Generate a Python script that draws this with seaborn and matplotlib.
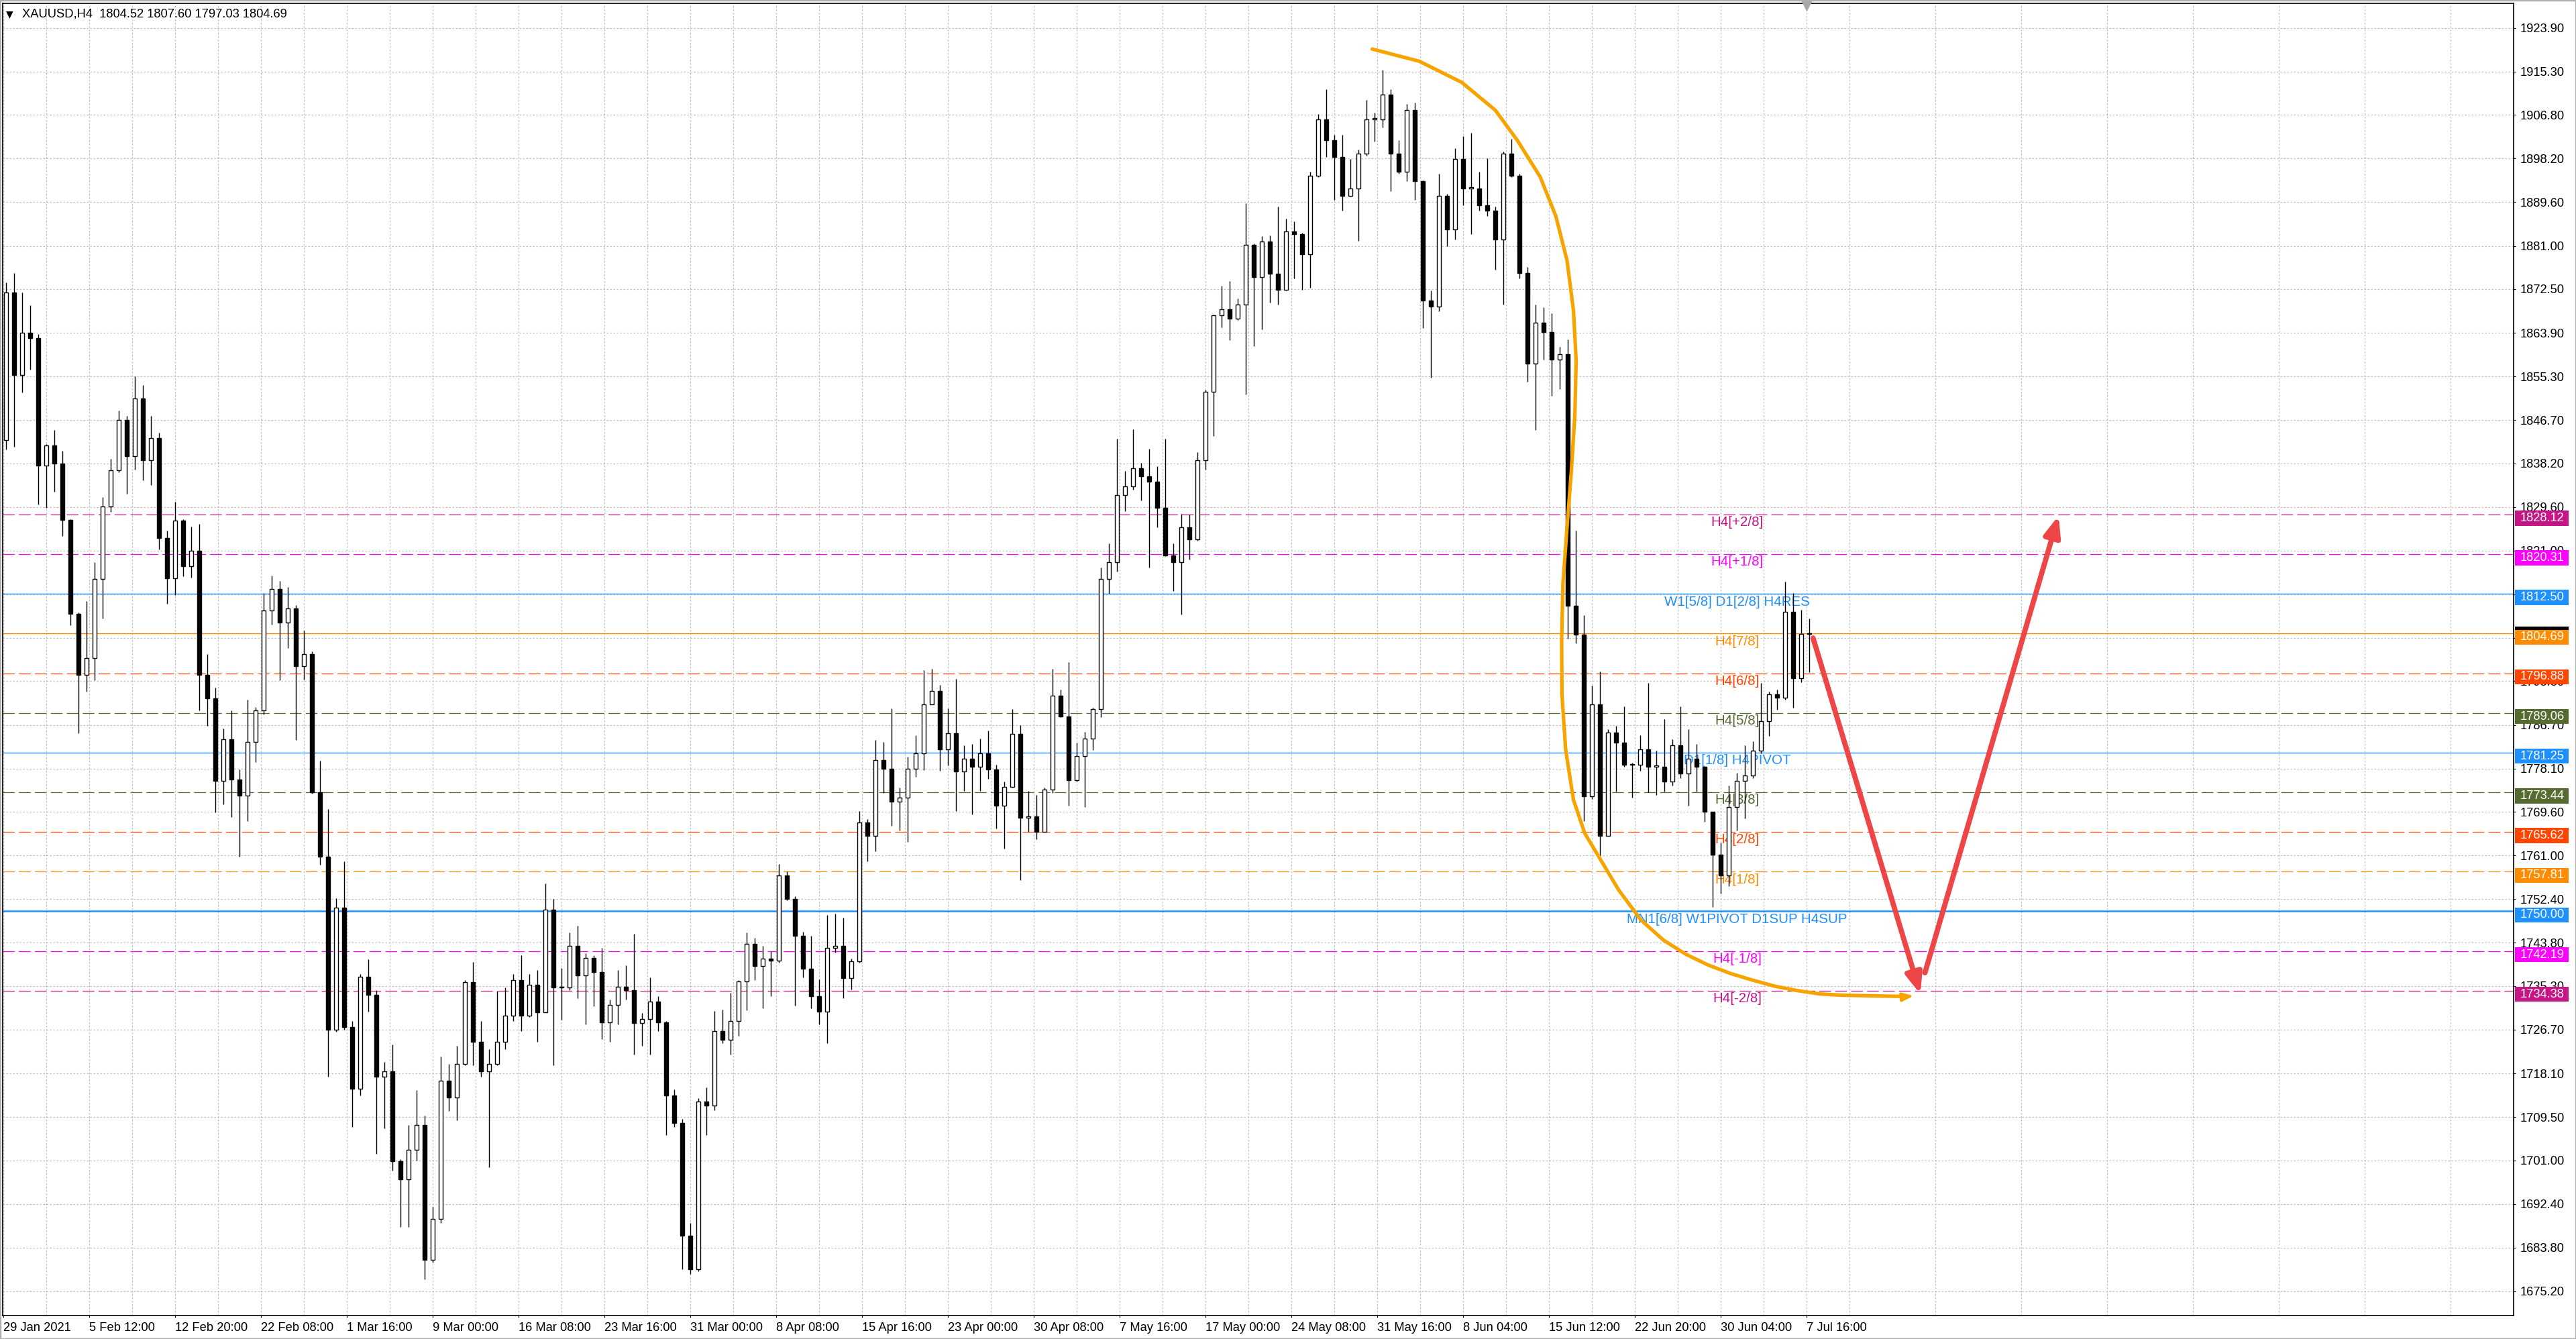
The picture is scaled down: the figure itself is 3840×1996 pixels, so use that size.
import numpy as np
import matplotlib
matplotlib.use("Agg")
import matplotlib.pyplot as plt
import matplotlib.patheffects as pe
import seaborn as sns
from matplotlib.patches import Rectangle
from matplotlib.transforms import blended_transform_factory

# %% data: XAUUSD, each candle = 3 H4 bars
first_open = 1842.8
closes = [
    1871.8, 1855.6, 1863.9, 1862.9, 1837.8, 1841.7, 1838.2, 1827.0, 1808.6, 1796.6, 1799.9, 1815.4, 1829.7, 1836.8, 1846.7,
    1839.6, 1850.9, 1838.8, 1843.2, 1823.5, 1815.6, 1826.9, 1817.9, 1821.0, 1796.6, 1791.9, 1775.7, 1783.9, 1775.9, 1772.8,
    1783.3, 1789.5, 1809.2, 1813.4, 1806.9, 1809.6, 1798.3, 1800.7, 1773.4, 1760.7, 1726.7, 1750.7, 1727.2, 1715.1, 1737.1,
    1733.5, 1717.5, 1718.5, 1700.8, 1697.3, 1703.1, 1708.0, 1681.4, 1689.4, 1716.7, 1713.4, 1719.9, 1736.0, 1724.3, 1718.5,
    1719.9, 1724.3, 1729.4, 1736.4, 1729.4, 1735.5, 1730.1, 1750.3, 1735.0, 1735.0, 1743.2, 1737.4, 1740.8, 1738.1, 1728.2,
    1731.6, 1735.2, 1734.5, 1728.0, 1728.8, 1732.3, 1728.2, 1713.7, 1708.3, 1686.2, 1679.6, 1712.6, 1711.8, 1726.4, 1724.7,
    1728.4, 1736.2, 1743.6, 1739.3, 1740.7, 1740.3, 1757.1, 1752.4, 1745.2, 1738.7, 1733.3, 1730.3, 1742.8, 1743.2, 1736.9,
    1740.1, 1767.5, 1764.9, 1779.8, 1778.0, 1771.6, 1772.4, 1778.0, 1781.1, 1790.7, 1793.4, 1781.9, 1785.0, 1777.5, 1780.0,
    1778.5, 1781.1, 1777.9, 1770.8, 1774.5, 1784.9, 1768.4, 1768.7, 1765.6, 1774.0, 1792.4, 1788.4, 1775.8, 1780.6, 1784.0,
    1789.8, 1815.4, 1818.8, 1832.0, 1833.6, 1837.2, 1835.7, 1834.6, 1829.5, 1820.1, 1818.8, 1825.6, 1823.2, 1838.8, 1852.3,
    1867.3, 1868.5, 1866.7, 1869.4, 1881.2, 1874.9, 1881.8, 1875.5, 1872.4, 1883.9, 1883.3, 1879.3, 1894.8, 1905.9, 1901.8,
    1898.5, 1890.9, 1892.3, 1899.2, 1905.9, 1905.9, 1910.8, 1899.2, 1895.6, 1907.8, 1893.7, 1870.2, 1869.1, 1890.9, 1884.2,
    1898.1, 1892.3, 1892.3, 1889.0, 1888.0, 1882.2, 1899.2, 1894.8, 1875.7, 1857.8, 1865.9, 1864.0, 1858.6, 1859.7, 1810.2,
    1804.5, 1772.7, 1790.8, 1764.8, 1785.2, 1783.2, 1778.8, 1778.8, 1781.9, 1778.5, 1778.5, 1775.5, 1782.7, 1777.2, 1780.0,
    1778.5, 1769.6, 1761.2, 1757.1, 1770.5, 1775.7, 1776.7, 1781.6, 1787.5, 1792.7, 1792.0, 1809.0, 1795.9, 1804.6, 1804.69,
]
highs = [
    1873.8, 1875.7, 1871.8, 1869.3, 1863.7, 1842.0, 1844.7, 1840.6, 1827.2, 1808.8, 1811.1, 1818.8, 1831.6, 1839.1, 1848.6,
    1847.5, 1855.3, 1853.6, 1847.5, 1844.2, 1825.0, 1830.6, 1827.2, 1825.8, 1826.2, 1800.7, 1794.1, 1786.0, 1789.6, 1777.9,
    1791.6, 1790.2, 1812.7, 1816.1, 1815.0, 1813.8, 1810.3, 1805.3, 1801.2, 1779.6, 1770.1, 1752.6, 1759.8, 1728.4, 1737.6,
    1740.6, 1734.5, 1720.4, 1723.8, 1701.2, 1708.0, 1714.8, 1709.8, 1691.8, 1721.4, 1719.9, 1723.5, 1736.4, 1740.0, 1728.4,
    1722.9, 1734.2, 1735.0, 1737.6, 1741.3, 1737.7, 1738.4, 1755.5, 1752.4, 1738.9, 1745.9, 1747.1, 1741.8, 1741.3, 1742.8,
    1732.6, 1738.4, 1739.4, 1745.6, 1730.0, 1737.0, 1733.3, 1728.4, 1714.9, 1709.1, 1688.6, 1713.2, 1715.3, 1730.4, 1730.6,
    1733.9, 1736.4, 1745.9, 1744.8, 1743.2, 1742.1, 1759.3, 1757.9, 1753.0, 1746.0, 1745.2, 1736.6, 1749.3, 1749.5, 1748.7,
    1740.7, 1769.8, 1768.2, 1783.7, 1783.3, 1789.9, 1774.3, 1780.5, 1784.7, 1797.5, 1797.8, 1794.6, 1789.9, 1795.8, 1782.7,
    1783.0, 1784.0, 1785.6, 1778.9, 1775.6, 1789.8, 1786.7, 1773.7, 1772.9, 1774.3, 1797.7, 1793.7, 1799.0, 1783.2, 1785.3,
    1790.1, 1817.7, 1822.5, 1843.0, 1836.7, 1844.9, 1838.3, 1841.1, 1837.6, 1843.0, 1822.5, 1828.3, 1828.1, 1840.4, 1852.7,
    1867.5, 1873.1, 1874.1, 1870.7, 1889.4, 1881.5, 1882.9, 1883.1, 1888.7, 1886.3, 1885.8, 1883.6, 1895.6, 1907.0, 1911.9,
    1902.9, 1902.9, 1898.1, 1899.9, 1909.7, 1907.2, 1915.7, 1911.9, 1901.8, 1908.9, 1909.2, 1893.9, 1872.2, 1895.2, 1891.2,
    1900.2, 1902.6, 1903.2, 1895.6, 1898.3, 1888.7, 1899.6, 1902.1, 1895.2, 1876.8, 1869.5, 1868.9, 1867.8, 1861.1, 1862.6,
    1824.9, 1808.3, 1794.4, 1797.2, 1785.8, 1786.5, 1790.3, 1779.3, 1784.7, 1795.0, 1781.6, 1787.9, 1783.9, 1790.3, 1785.8,
    1782.9, 1778.3, 1769.6, 1763.6, 1774.7, 1777.3, 1782.7, 1783.5, 1795.0, 1793.3, 1793.7, 1814.9, 1812.6, 1809.4, 1807.60,
]
lows = [
    1840.9, 1841.4, 1852.1, 1856.7, 1830.1, 1829.5, 1832.6, 1823.9, 1806.3, 1785.0, 1793.3, 1795.5, 1807.6, 1828.7, 1836.5,
    1832.2, 1837.0, 1834.9, 1833.9, 1821.2, 1810.5, 1812.3, 1815.9, 1815.7, 1789.5, 1786.5, 1769.5, 1771.0, 1768.6, 1760.7,
    1767.8, 1779.4, 1788.8, 1806.5, 1795.5, 1801.8, 1783.7, 1795.6, 1773.2, 1759.2, 1717.5, 1726.3, 1726.7, 1707.6, 1713.8,
    1730.3, 1702.2, 1707.3, 1698.9, 1687.9, 1687.9, 1701.0, 1677.5, 1680.8, 1688.6, 1710.7, 1708.8, 1719.7, 1719.7, 1717.5,
    1699.6, 1719.7, 1722.9, 1728.4, 1726.4, 1729.2, 1724.3, 1730.1, 1719.7, 1728.7, 1734.5, 1732.9, 1727.7, 1731.3, 1724.8,
    1724.3, 1727.7, 1732.6, 1721.8, 1723.5, 1721.8, 1726.4, 1706.0, 1707.5, 1679.5, 1678.6, 1679.2, 1706.0, 1710.8, 1724.1,
    1721.8, 1725.5, 1730.5, 1736.4, 1730.9, 1733.3, 1739.9, 1752.2, 1731.4, 1737.0, 1730.9, 1727.8, 1724.1, 1741.9, 1732.9,
    1734.6, 1739.9, 1759.8, 1761.8, 1773.3, 1766.9, 1765.9, 1763.7, 1776.5, 1777.8, 1790.7, 1777.6, 1778.7, 1769.8, 1773.7,
    1769.1, 1773.7, 1776.1, 1766.3, 1762.4, 1774.3, 1756.1, 1765.6, 1764.2, 1765.6, 1773.3, 1788.2, 1770.8, 1775.6, 1770.5,
    1781.7, 1788.2, 1812.5, 1816.9, 1828.8, 1833.0, 1830.9, 1817.7, 1825.6, 1819.9, 1813.0, 1808.5, 1819.3, 1823.0, 1836.9,
    1843.6, 1865.0, 1862.5, 1866.4, 1851.7, 1861.2, 1864.6, 1869.9, 1869.5, 1872.2, 1874.6, 1872.4, 1872.7, 1894.5, 1898.5,
    1890.1, 1888.0, 1890.7, 1882.0, 1898.8, 1901.6, 1904.3, 1891.8, 1895.2, 1893.7, 1890.1, 1864.8, 1855.0, 1868.1, 1880.9,
    1882.2, 1889.0, 1883.3, 1888.0, 1886.9, 1876.3, 1869.5, 1894.5, 1874.6, 1854.2, 1844.8, 1858.6, 1851.5, 1852.8, 1803.7,
    1802.8, 1767.8, 1772.1, 1761.0, 1766.3, 1773.6, 1778.5, 1772.4, 1777.6, 1773.4, 1772.9, 1773.6, 1774.7, 1776.2, 1770.8,
    1773.6, 1767.6, 1750.9, 1753.5, 1755.0, 1765.9, 1768.3, 1776.2, 1781.1, 1784.5, 1789.7, 1791.7, 1790.1, 1795.1, 1797.03,
]

# murrey levels
levels = [1828.12, 1820.31, 1812.50, 1804.69, 1796.88, 1789.06, 1781.25,
          1773.44, 1765.62, 1757.81, 1750.00, 1742.19, 1734.38]
level_names = ["H4[+2/8]", "H4[+1/8]", "W1[5/8] D1[2/8] H4RES", "H4[7/8]", "H4[6/8]",
               "H4[5/8]", "D1[1/8] H4PIVOT", "H4[3/8]", "H4[2/8]", "H4[1/8]",
               "MN1[6/8] W1PIVOT D1SUP H4SUP", "H4[-1/8]", "H4[-2/8]"]
level_colors = ["#C71585", "#FF00FF", "#1E90FF", "#FF8C00", "#FF4500", "#556B2F", "#1E90FF",
                "#556B2F", "#FF4500", "#FF8C00", "#1E90FF", "#FF00FF", "#C71585"]
level_solid = [False, False, True, True, False, False, True,
               False, False, False, True, False, False]

price_ticks = ["1923.90", "1915.30", "1906.80", "1898.20", "1889.60", "1881.00", "1872.50",
               "1863.90", "1855.30", "1846.70", "1838.20", "1829.60", "1821.00", "1812.40",
               "1803.80", "1795.30", "1786.70", "1778.10", "1769.60", "1761.00", "1752.40",
               "1743.80", "1735.30", "1726.70", "1718.10", "1709.50", "1701.00", "1692.40",
               "1683.80", "1675.20"]
date_labels = ["29 Jan 2021", "5 Feb 12:00", "12 Feb 20:00", "22 Feb 08:00", "1 Mar 16:00",
               "9 Mar 00:00", "16 Mar 08:00", "23 Mar 16:00", "31 Mar 00:00", "8 Apr 08:00",
               "15 Apr 16:00", "23 Apr 00:00", "30 Apr 08:00", "7 May 16:00", "17 May 00:00",
               "24 May 08:00", "31 May 16:00", "8 Jun 04:00", "15 Jun 12:00", "22 Jun 20:00",
               "30 Jun 04:00", "7 Jul 16:00"]

# hand drawn orange bracket (bar index, price)
curve_x = [510.2, 527.8, 543.6, 556.1, 564.4, 572.8, 578.6, 582.8, 585.2, 586.2, 585.7, 584.4,
           582.8, 581.3, 580.8, 580.9, 582.3, 585.2, 589.4, 602.1, 610.4, 618.8, 627.1, 635.4,
           643.8, 652.1, 660.4, 668.8, 677.1, 685.4, 697.0, 709.5]
curve_y = [1919.75, 1917.34, 1913.18, 1907.70, 1901.68, 1894.58, 1886.90, 1878.15, 1868.29,
           1858.44, 1847.49, 1836.55, 1825.60, 1814.64, 1803.69, 1792.74, 1781.79, 1771.94,
           1765.38, 1754.16, 1748.26, 1744.31, 1741.55, 1739.43, 1737.75, 1736.43, 1735.24,
           1734.38, 1733.73, 1733.48, 1733.36, 1733.22]
curve_tip = (712.0, 1733.36)

# red arrows: (start, tip)
red_arrows = [((674.5, 1803.8), (714.5, 1733.7)),
              ((716.2, 1737.9), (766.0, 1827.9))]

# %% candles
closes = np.array(closes)
opens = np.concatenate([[first_open], closes[:-1]])
highs = np.maximum(np.array(highs), np.maximum(opens, closes))
lows = np.minimum(np.array(lows), np.minimum(opens, closes))
xs = np.arange(len(closes)) * 3 + 1

sns.set_theme(style="white")
plt.rcParams["font.family"] = ["Liberation Sans", "DejaVu Sans"]

fig = plt.figure(figsize=(19.2, 9.98), dpi=200)
ax = fig.add_axes([0.00117, 0.01754, 0.97461, 0.97996])
ax.set_xlim(-0.125, 935.6)
ax.set_ylim(1670.43, 1928.75)

ax.vlines(xs, lows, highs, color="black", lw=0.5, zorder=3)
up = closes >= opens
body = np.maximum(np.abs(closes - opens), 0.2)
bottom = np.minimum(opens, closes)
ax.bar(xs[up], body[up], bottom=bottom[up], width=1.5, facecolor="white",
       edgecolor="black", linewidth=0.5, zorder=4)
ax.bar(xs[~up], body[~up], bottom=bottom[~up], width=1.5, facecolor="black",
       edgecolor="black", linewidth=0.5, zorder=4)

# levels + labels
blend = blended_transform_factory(ax.transAxes, ax.transData)
for lv, name, col, solid in zip(levels, level_names, level_colors, level_solid):
    if solid:
        ax.axhline(lv, color=col, lw=0.9 if lv == 1750.00 else 0.5, zorder=2)
    else:
        ax.axhline(lv, color=col, lw=0.45, linestyle=(0, (14, 5)), zorder=2)
    ax.text(646.25, lv - 0.3, name, color=col, fontsize=7.4, ha="center", va="top", zorder=2.5)
    if lv == 1804.69:
        ax.add_patch(Rectangle((1.0005, lv - 0.72 - 1.47 + 0.65), 0.0214, 2.95, transform=blend,
                               facecolor="black", edgecolor="none", clip_on=False, zorder=5))
    ax.add_patch(Rectangle((1.0005, lv - 0.72 - 1.47), 0.0214, 2.95, transform=blend,
                           facecolor=col, edgecolor="none", clip_on=False, zorder=6))
    ax.text(1.0027, lv - 0.72, f"{lv:.2f}", transform=blend, color="white", fontsize=6.6,
            ha="left", va="center", clip_on=False, zorder=7)

# annotations
sns.lineplot(x=curve_x, y=curve_y, sort=False, estimator=None, color="#F7A400",
             lw=1.9, ax=ax, zorder=8, legend=False)
ax.annotate("", xy=curve_tip, xytext=(curve_x[-1], curve_y[-1]),
            arrowprops=dict(arrowstyle="-|>,head_length=0.45,head_width=0.17", color="#F7A400",
                            lw=1.4, mutation_scale=11, shrinkA=0, shrinkB=0), zorder=8)
shadow = [pe.SimplePatchShadow(offset=(1.2, -1.2), alpha=0.25), pe.Normal()]
for start, tip in red_arrows:
    ann = ax.annotate("", xy=tip, xytext=start,
                      arrowprops=dict(arrowstyle="-|>,head_length=0.45,head_width=0.18",
                                      color="#EE4646", lw=2.8, mutation_scale=20,
                                      shrinkA=0, shrinkB=0), zorder=9)
    ann.arrow_patch.set_path_effects(shadow)

# axes, ticks, grid
ax.yaxis.tick_right()
ax.set_yticks([float(t) for t in price_ticks])
ax.set_yticklabels(price_ticks)
ax.set_xticks(np.arange(len(date_labels)) * 32)
ax.set_xticklabels(date_labels)
for lbl in ax.get_xticklabels():
    lbl.set_horizontalalignment("left")
ax.set_xticks(np.arange(16, 936, 32), minor=True)
ax.tick_params(axis="y", which="major", length=1.2, width=0.4, pad=2.2, labelsize=6.6,
               colors="black", right=True, left=False)
ax.tick_params(axis="x", which="major", length=1.2, width=0.4, pad=2.4, labelsize=6.6,
               colors="black", bottom=True)
ax.tick_params(axis="x", which="minor", length=0)
ax.set_axisbelow(True)
ax.grid(True, which="both", color="#C0C0C0", linestyle=(0, (2, 2)), linewidth=0.45)
for sp in ax.spines.values():
    sp.set_visible(True)
    sp.set_color("black")
    sp.set_linewidth(0.6)

ax.plot([672], [1928.3], marker="v", color="#A8A8A8", markersize=4, clip_on=False, zorder=10)

fig.text(9 / 3840, 1 - 21 / 1996, "\u25bc", fontsize=5, color="black", va="center", ha="left",
         family=["DejaVu Sans"])
fig.text(33 / 3840, 1 - 21 / 1996, "XAUUSD,H4  1804.52 1807.60 1797.03 1804.69", fontsize=6.6,
         color="black", va="center", ha="left")
fig.patches.append(Rectangle((0, 0), 1, 1, transform=fig.transFigure, fill=False,
                             edgecolor="#B0B0B0", lw=1.2))

fig.savefig("out.png", dpi=200, facecolor="white")
